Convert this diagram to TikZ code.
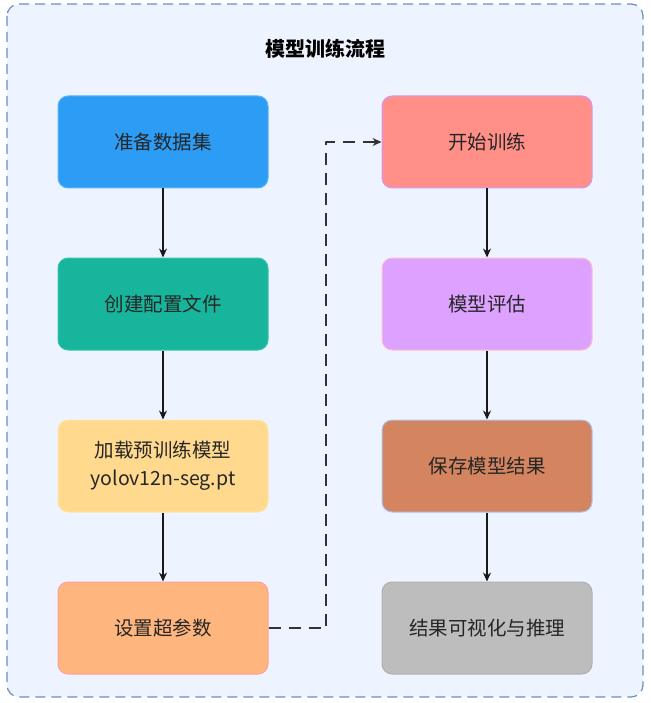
\documentclass[tikz,border=0pt]{standalone}
\usepackage{fontspec}
\newfontfamily\cjk{Noto Sans CJK SC}
\usetikzlibrary{arrows.meta}
\definecolor{panelbg}{HTML}{EEF4FF}
\definecolor{panelline}{HTML}{6C8EBF}
\definecolor{cblue}{HTML}{2D9CF4}\definecolor{lblue}{HTML}{5BB4F7}
\definecolor{cteal}{HTML}{16B59C}\definecolor{lteal}{HTML}{3CC4AE}
\definecolor{cyellow}{HTML}{FFD98E}\definecolor{lyellow}{HTML}{FFE4A8}
\definecolor{corange}{HTML}{FFB57E}\definecolor{lorange}{HTML}{FF9E9E}
\definecolor{csalmon}{HTML}{FF8F87}\definecolor{lsalmon}{HTML}{CC99FF}
\definecolor{cviolet}{HTML}{DDA1FF}\definecolor{lviolet}{HTML}{FFC0CB}
\definecolor{cbrown}{HTML}{D4845F}\definecolor{lbrown}{HTML}{A9C4F5}
\definecolor{cgray}{HTML}{BDBDBD}\definecolor{lgray}{HTML}{B0B0B0}
\begin{document}
\begin{tikzpicture}[x=1pt, y=-1pt, font=\cjk, line join=round, >={Stealth[length=9pt,width=8pt]},
    stepbox/.style={draw, line width=1pt, rounded corners=10pt, minimum width=210pt, minimum height=92pt,
      align=center, font=\cjk\fontsize{19.5}{28}\selectfont, text=black!85},
    flow/.style={->, line width=1.3pt, black!90},
    jump/.style={->, line width=1.4pt, black!80, dash pattern=on 12pt off 8pt}]
    \useasboundingbox (0,0) rectangle (650,703);
    % panel
    \draw[panelline, fill=panelbg, line width=1.2pt, rounded corners=12pt, dash pattern=on 10pt off 6pt]
        (7,4) rectangle (643,697);
    \node (title) at (325,49) {\fontsize{20}{24}\selectfont\bfseries 模型训练流程};
    % left column
    \node[stepbox, fill=cblue, draw=lblue] (data) at (163,142) {准备数据集};
    \node[stepbox, fill=cteal, draw=lteal] (cfg) at (163,304) {创建配置文件};
    \node[stepbox, fill=cyellow, draw=lyellow] (load) at (163,466) {加载预训练模型\\yolov12n-seg.pt};
    \node[stepbox, fill=corange, draw=lorange] (hyp) at (163,628) {设置超参数};
    % right column
    \node[stepbox, fill=csalmon, draw=lsalmon] (train) at (487,142) {开始训练};
    \node[stepbox, fill=cviolet, draw=lviolet] (eval) at (487,304) {模型评估};
    \node[stepbox, fill=cbrown, draw=lbrown] (save) at (487,466) {保存模型结果};
    \node[stepbox, fill=cgray, draw=lgray] (vis) at (487,628) {结果可视化与推理};
    \draw[flow] (data) -- (cfg);
    \draw[flow] (cfg) -- (load);
    \draw[flow] (load) -- (hyp);
    \draw[flow] (train) -- (eval);
    \draw[flow] (eval) -- (save);
    \draw[flow] (save) -- (vis);
    \draw[jump] (hyp.east) -- (326,628) -- (326,142) -- (train.west);
\end{tikzpicture}
\end{document}
